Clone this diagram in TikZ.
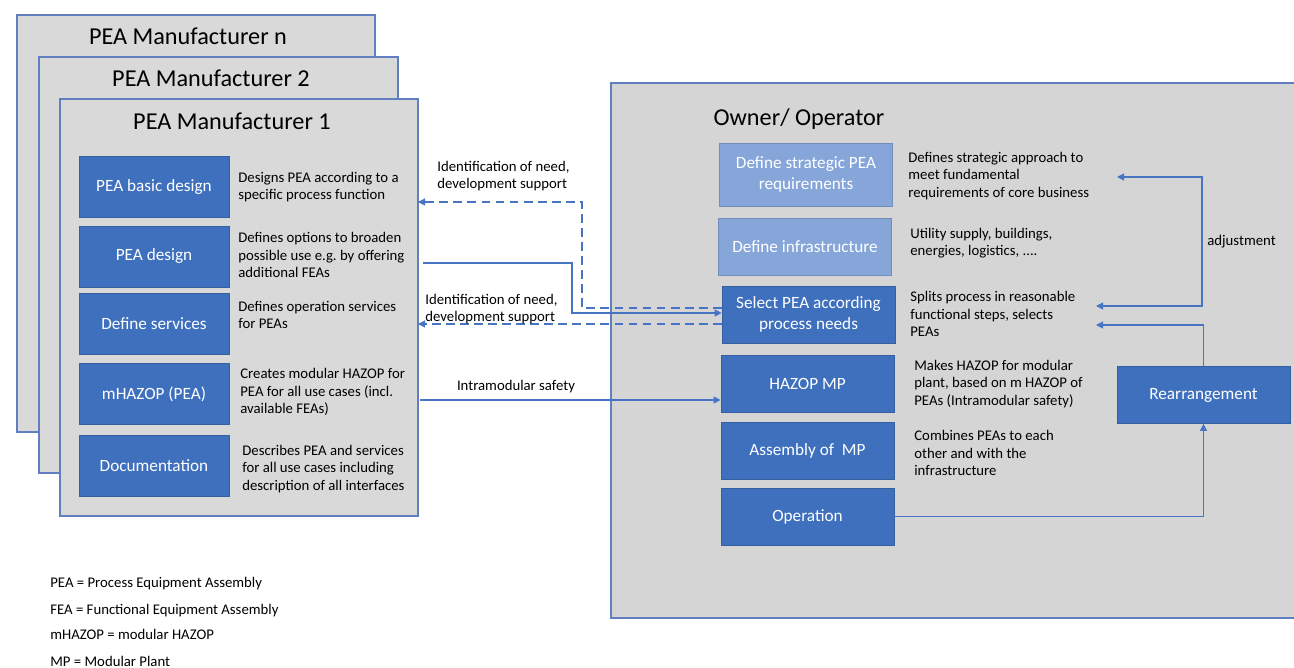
\documentclass[tikz,border=0pt]{standalone}
\usepackage{fontspec}
\setmainfont{Carlito}
\usetikzlibrary{arrows.meta}

\definecolor{panelgray}{RGB}{217,217,217}
\definecolor{ownergray}{RGB}{213,213,213}
\definecolor{paneledge}{RGB}{96,126,192}
\definecolor{darkblue}{RGB}{62,112,190}
\definecolor{lightblue}{RGB}{134,166,218}
\definecolor{linkblue}{RGB}{72,116,196}

\tikzset{
  panel/.style={draw=paneledge, line width=0.9pt, fill=panelgray},
  paneltitle/.style={font=\fontsize{13.8}{16}\selectfont},
  bluebox/.style={draw=darkblue!85!black, fill=darkblue, text=white, align=center,
    font=\fontsize{9.8}{12.4}\selectfont, minimum width=3cm, minimum height=1.22cm, inner sep=1pt},
  ownbox/.style={bluebox, minimum width=3.46cm, minimum height=1.14cm},
  lightbox/.style={ownbox, draw=lightblue!85!black, fill=lightblue},
  desc/.style={anchor=west, align=left, inner sep=0pt, font=\fontsize{8.4}{9.9}\selectfont},
  link/.style={draw=linkblue, line width=0.6pt, -{Triangle[length=4pt,width=4pt]}},
  dashlink/.style={link, dash pattern=on 5pt off 3pt},
}

\begin{document}
\begin{tikzpicture}[x=0.02cm, y=-0.02cm] % 1 unit = 1 px of the reference
\useasboundingbox (0,0) rectangle (1294,668);

% Manufacturer stack (back to front)
\draw[panel] (17,15) rectangle (375,432); % manufacturer n
\node[paneltitle] (titlen) at (188,36) {PEA Manufacturer n};
\draw[panel] (39,57) rectangle (398,473); % manufacturer 2
\node[paneltitle] (title2) at (211,78) {PEA Manufacturer 2};
\draw[panel] (60,99) rectangle (418,516); % manufacturer 1
\node[paneltitle] (title1) at (232,121) {PEA Manufacturer 1};

% Manufacturer steps
\node[bluebox] (basic) at (154,187) {PEA basic design};
\node[bluebox] (design) at (154,256.5) {PEA design};
\node[bluebox] (services) at (154,324) {Define services};
\node[bluebox] (mhazop) at (154,394) {mHAZOP (PEA)};
\node[bluebox] (docu) at (154,466) {Documentation};

\node[desc] (dbasic) at (238,187) {Designs PEA according to a\\specific process function};
\node[desc] (ddesign) at (238,255) {Defines options to broaden\\possible use e.g.\ by offering\\additional FEAs};
\node[desc] (dservices) at (238,315) {Defines operation services\\for PEAs};
\node[desc] (dmhazop) at (240,392) {Creates modular HAZOP for\\PEA for all use cases (incl.\\available FEAs)};
\node[desc] (ddocu) at (242,469) {Describes PEA and services\\for all use cases including\\description of all interfaces};

% Owner / operator panel
\draw[panel, fill=ownergray] (611,83) rectangle (1310,618);
\node[paneltitle] (owner) at (799,119) {Owner/ Operator};

\node[lightbox, minimum height=1.26cm] (strategic) at (806,174.5) {Define strategic PEA\\requirements};
\node[lightbox] (infra) at (805,246.5) {Define infrastructure};
\node[ownbox] (select) at (808.5,314.5) {Select PEA according\\process needs};
\node[ownbox] (hazop) at (807.5,383.5) {HAZOP MP};
\node[ownbox] (assembly) at (807.5,451) {Assembly of~~MP};
\node[ownbox] (operation) at (807.5,516.5) {Operation};
\node[ownbox] (rearr) at (1203.5,395) {Rearrangement};

\node[desc] (dstrategic) at (908,176) {Defines strategic approach to\\meet fundamental\\requirements of core business};
\node[desc] (dinfra) at (910,243) {Utility supply, buildings,\\energies, logistics, ....};
\node[desc] (dselect) at (910,314) {Splits process in reasonable\\functional steps, selects\\PEAs};
\node[desc] (dhazop) at (914,384) {Makes HAZOP for modular\\plant, based on m HAZOP of\\PEAs (Intramodular safety)};
\node[desc] (dassembly) at (914,453) {Combines PEAs to each\\other and with the\\infrastructure};

% free ends of the connectors
\coordinate (m1a) at (418,202);  % into manufacturer 1
\coordinate (m1b) at (423,263);
\coordinate (m1c) at (418,324);
\coordinate (m1d) at (420,400);
\coordinate (bend1) at (582,202);
\coordinate (bend2) at (572,263);
\coordinate (adjtop) at (1117,177);
\coordinate (adjbot) at (1096,306);
\coordinate (rearrin) at (1096,325);

% Exchange between manufacturer and owner
\draw[dashlink] (select.west |- 0,308) -| (bend1) -- (m1a); % need identification
\draw[link] (m1b) -- (bend2) |- (select.west |- 0,313); % PEA offer
\draw[dashlink] (select.west |- 0,324) -- (m1c); % need identification
\draw[link] (m1d) -- (hazop.west |- m1d); % intramodular safety

\node[desc] (need1) at (437,176) {Identification of need,\\development support};
\node[desc] (need2) at (425,309) {Identification of need,\\development support};
\node[desc, anchor=center] (intra) at (516,387) {Intramodular safety};

% Feedback loop
\draw[link, {Triangle[length=4pt,width=4pt]}-{Triangle[length=4pt,width=4pt]}] (adjtop) -| (1202,306) -- (adjbot);
\node[desc] (adjust) at (1207,242) {adjustment};
\draw[link] (rearr.north) |- (rearrin);
\draw[link] (operation.east) -| (rearr.south);

% Abbreviations
\node[desc, font=\fontsize{8.4}{10}\selectfont] (abbpea) at (50,584) {PEA = Process Equipment Assembly};
\node[desc, font=\fontsize{8.4}{10}\selectfont] (abbfea) at (50,611) {FEA = Functional Equipment Assembly};
\node[desc, font=\fontsize{8.4}{10}\selectfont] (abbmh) at (50,634) {mHAZOP = modular HAZOP};
\node[desc, font=\fontsize{8.4}{10}\selectfont] (abbmp) at (50,661) {MP = Modular Plant};
\end{tikzpicture}
\end{document}
